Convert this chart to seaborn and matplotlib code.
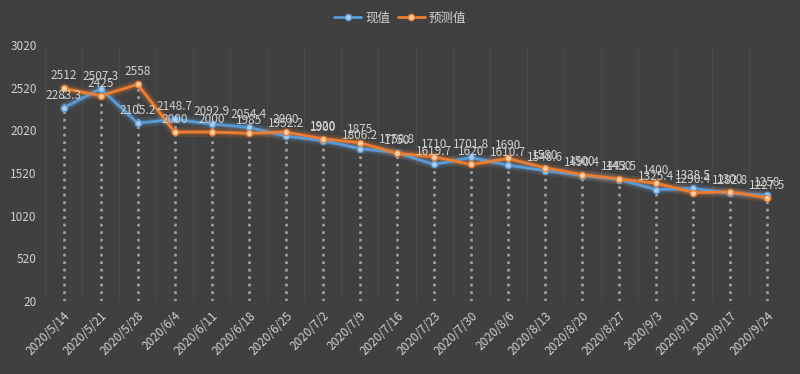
import matplotlib
matplotlib.use('Agg')
import matplotlib.pyplot as plt
import numpy as np
import pandas as pd
import seaborn as sns


dates = ['2020/5/14', '2020/5/21', '2020/5/28', '2020/6/4', '2020/6/11', '2020/6/18',
         '2020/6/25', '2020/7/2', '2020/7/9', '2020/7/16', '2020/7/23', '2020/7/30',
         '2020/8/6', '2020/8/13', '2020/8/20', '2020/8/27', '2020/9/3', '2020/9/10',
         '2020/9/17', '2020/9/24']
actual = [2283.3, 2507.3, 2105.2, 2148.7, 2092.9, 2054.4, 1952.2, 1900, 1806.2, 1758.8,
          1619.7, 1701.8, 1610.7, 1548.6, 1490.4, 1443.5, 1325.4, 1338.5, 1282.8, 1258]
predicted = [2512, 2425, 2558, 2000, 2000, 1985, 2000, 1920, 1875, 1750,
             1710, 1620, 1690, 1580, 1500, 1450, 1400, 1290.4, 1300, 1227.5]
y_ticks = [20, 520, 1020, 1520, 2020, 2520, 3020]

bg = '#404040'
blue = '#5b9bd5'
orange = '#ed7d31'
txt = '#d0d0d0'

sns.set_theme(style='dark', rc={'axes.facecolor': bg, 'figure.facecolor': bg})
plt.rcParams['font.family'] = ['Noto Sans CJK SC', 'DejaVu Sans']

df = pd.DataFrame({'pos': np.arange(len(dates)), 'date': dates,
                   '现值': actual, '预测值': predicted})

fig = plt.figure(figsize=(8, 3.74), dpi=100)
ax = fig.add_axes([45 / 800, 1 - 301 / 374, 741 / 800, 256 / 374])

# faint category borders
for b in np.arange(len(dates) + 1) - 0.5:
    ax.axvline(b, color='#4a4a4a', lw=0.8, zorder=0)

# drop lines
top = np.maximum(df['现值'], df['预测值'])
ax.vlines(df['pos'], 20, top, colors='#a6a6a6', lw=1.8,
          linestyles=[(0, (1.1, 1.9))], zorder=1)

handles = []
for col, c, lite in [('现值', blue, '#a9cdf0'), ('预测值', orange, '#ffd2ae')]:
    # glow
    sns.lineplot(data=df, x='pos', y=col, ax=ax, color=c, lw=7, alpha=0.15, zorder=2)
    sns.lineplot(data=df, x='pos', y=col, ax=ax, color=c, lw=4, alpha=0.22, zorder=2)
    sns.lineplot(data=df, x='pos', y=col, ax=ax, color=c, lw=2, zorder=3,
                 marker='o', markersize=4.5, markerfacecolor=lite, markeredgecolor=c,
                 markeredgewidth=1)
    h, = ax.plot([], [], color=c, lw=2, marker='o', markersize=4.5,
                 markerfacecolor=lite, markeredgecolor=c)
    handles.append(h)
    for x, v in zip(df['pos'], df[col]):
        s = f'{v:g}'
        ax.annotate(s, (x, v), xytext=(0, 4.5), textcoords='offset points',
                    ha='center', va='bottom', fontsize=8.5, color=txt, zorder=5)

ax.set_xlim(-0.5, len(dates) - 0.5)
ax.set_ylim(20, 3020)
ax.set_yticks(y_ticks)
ax.set_yticklabels([str(t) for t in y_ticks], fontsize=8.5, color=txt)
ax.set_xticks(df['pos'])
ax.set_xticklabels(dates, rotation=45, ha='right', rotation_mode='anchor',
                   fontsize=8.5, color=txt)
ax.tick_params(axis='both', length=0, pad=6)
ax.set_xlabel('')
ax.set_ylabel('')
ax.grid(False)
for sp in ax.spines.values():
    sp.set_visible(False)

fig.legend(handles, ['现值', '预测值'], loc='center', bbox_to_anchor=(0.5, 1 - 18 / 374),
           ncol=2, frameon=False, fontsize=9, labelcolor=txt, handlelength=2.2,
           columnspacing=0.6, handletextpad=0.3)

fig.savefig('out.png', dpi=100, facecolor=bg)
